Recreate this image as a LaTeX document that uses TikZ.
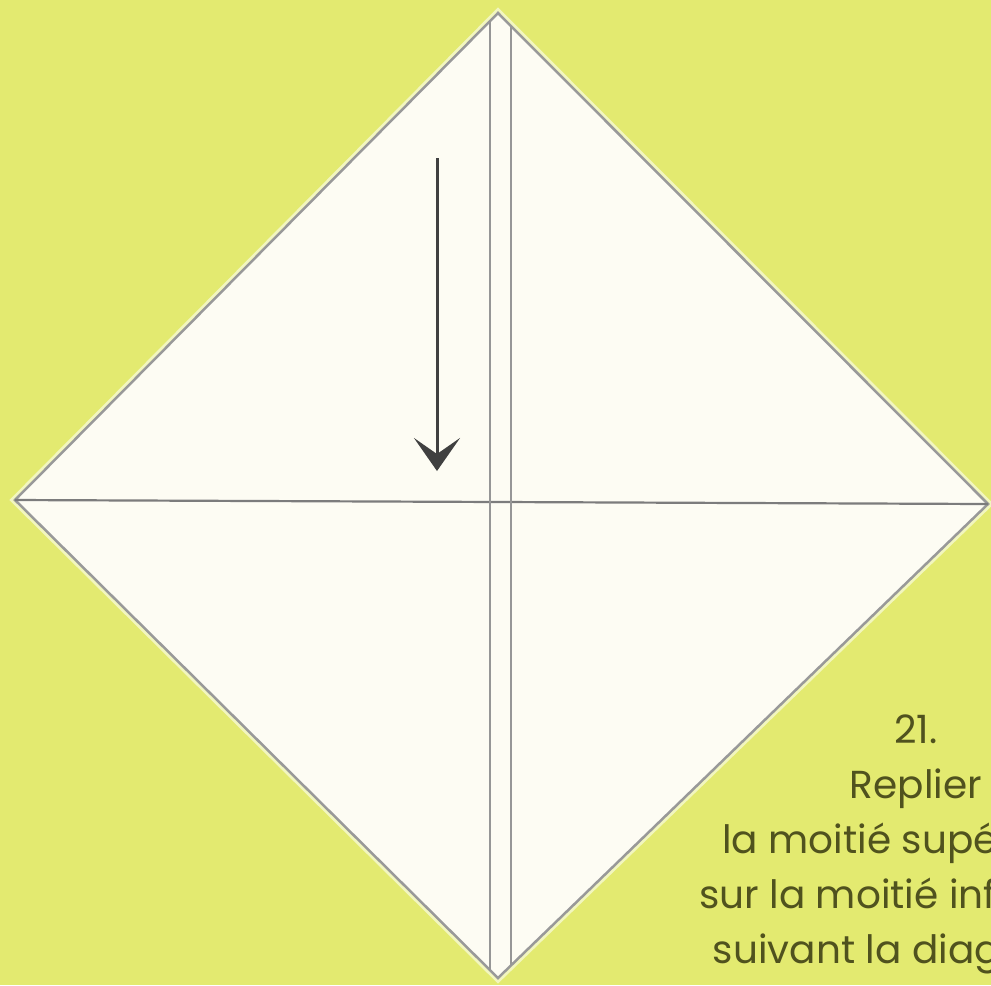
\documentclass[tikz,border=0pt]{standalone}
\usepackage{fontspec}
\setmainfont{Poppins}
\usetikzlibrary{arrows.meta}
\definecolor{leaf}{HTML}{E3EA70}
\definecolor{paper}{HTML}{FDFCF3}
\definecolor{crease}{HTML}{7C7C7C}
\definecolor{ink}{HTML}{50521E}
\begin{document}
\begin{tikzpicture}[x=0.1mm,y=-0.1mm,
  rim/.style={draw=white!55!leaf,line width=0.8mm,line join=miter},
  sheet/.style={fill=paper,draw=black!40,line width=0.25mm,line join=miter},
  fold/.style={draw=crease,line width=0.22mm},
  move/.style={draw=black!75,line width=0.3mm,
               -{Stealth[length=3.3mm,width=4.6mm,inset=1.6mm]}},
  note/.style={font=\fontsize{11.1pt}{15.6pt}\selectfont,text=ink,
               align=center,inner sep=0pt}]
  \clip (0,0) rectangle (991,985);
  \fill[leaf] (0,0) rectangle (991,985);
  % the square, standing on a corner
  \coordinate (top) at (498,13);
  \coordinate (lft) at (15,500);
  \coordinate (rgt) at (988,504);
  \coordinate (bot) at (498,978);
  \draw[rim] (top) -- (rgt) -- (bot) -- (lft) -- cycle;
  \draw[sheet] (top) -- (rgt) -- (bot) -- (lft) -- cycle;
  % creases
  \coordinate (v1t) at (490,21);
  \coordinate (v1b) at (490,970);
  \coordinate (v2t) at (511,26);
  \coordinate (v2b) at (511,965);
  \draw[fold] (lft) -- (rgt);
  \draw[fold,draw=crease!80] (v1t) -- (v1b);
  \draw[fold,draw=crease!80] (v2t) -- (v2b);
  % fold down
  \coordinate (a0) at (437,158);
  \coordinate (a1) at (437,471);
  \draw[move] (a0) -- (a1);
  \node[note,anchor=base] (step) at (916,963)
    {21.\\ Replier\\ la moitié supérieure\\ sur la moitié inférieure\\
     suivant la diagonale.};
\end{tikzpicture}
\end{document}
